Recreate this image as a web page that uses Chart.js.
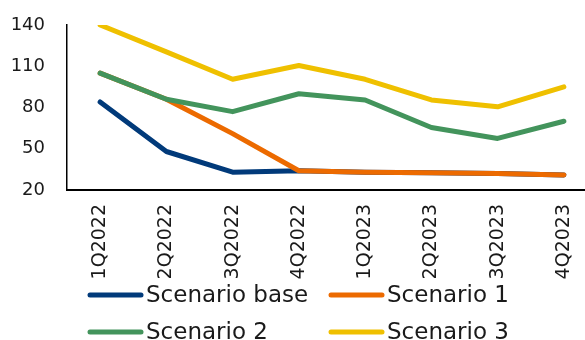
<!DOCTYPE html>
<html>
<head>
<meta charset="utf-8">
<script src="https://cdn.jsdelivr.net/npm/chart.js@4/dist/chart.umd.min.js"></script>
<style>
  html, body { margin: 0; padding: 0; background: #ffffff; overflow: hidden; }
  #wrap { width: 600px; height: 340px; }
</style>
</head>
<body>
<div id="wrap"><canvas id="c" width="600" height="340"></canvas></div>
<script>
// Quarterly scenario paths
const quarters = ['1Q2022', '2Q2022', '3Q2022', '4Q2022', '1Q2023', '2Q2023', '3Q2023', '4Q2023'];
const scenarioBase = [84, 48, 33, 34, 33, 32.5, 32, 31];
const scenario1 = [105, 86, 61, 34, 33, 32.5, 32, 31];
const scenario2 = [105, 86, 77, 90, 85.5, 65.5, 57.5, 70];
const scenario3 = [140, 120.5, 100.5, 110.5, 100.5, 85.5, 80.5, 95];
const yTicks = [20, 50, 80, 110, 140];

const FONT = '"DejaVu Sans", sans-serif';
const TEXT = '#1a1a1a';

function series(label, data, color, order) {
  return {
    label, data, order,
    borderColor: color,
    backgroundColor: color,
    borderWidth: 5,
    borderCapStyle: 'round',
    borderJoinStyle: 'round',
    pointRadius: 0,
    tension: 0,
    fill: false
  };
}

// Two-column legend drawn under the axis labels
const gridLegend = {
  id: 'gridLegend',
  afterDraw(chart) {
    const ctx = chart.ctx;
    const x0 = chart.chartArea.left + 21;
    chart.data.datasets.forEach((ds, i) => {
      const x = x0 + (i % 2) * 241;
      const y = 295 + Math.floor(i / 2) * 37;
      ctx.save();
      ctx.strokeStyle = ds.borderColor;
      ctx.lineWidth = 5;
      ctx.lineCap = 'round';
      ctx.beginPath();
      ctx.moveTo(x + 2, y);
      ctx.lineTo(x + 53, y);
      ctx.stroke();
      ctx.fillStyle = TEXT;
      ctx.font = '23px ' + FONT;
      ctx.textBaseline = 'middle';
      ctx.textAlign = 'left';
      ctx.fillText(ds.label, x + 58, y + 1);
      ctx.restore();
    });
  }
};

new Chart(document.getElementById('c'), {
  type: 'line',
  data: {
    labels: quarters,
    datasets: [
      series('Scenario base', scenarioBase, '#013a7a', 4),
      series('Scenario 1', scenario1, '#ec6a00', 3),
      series('Scenario 2', scenario2, '#43945c', 2),
      series('Scenario 3', scenario3, '#efc000', 1)
    ]
  },
  options: {
    responsive: false,
    animation: false,
    layout: { padding: { left: 0, right: 3, top: 25, bottom: 46.6 } },
    plugins: {
      legend: { display: false },
      tooltip: { enabled: false }
    },
    scales: {
      x: {
        offset: true,
        afterFit(scale) {
          scale.paddingLeft = 0; scale.paddingRight = 0;
          scale.paddingTop = 0; scale.paddingBottom = 0;
        },
        grid: { display: false, drawTicks: false },
        border: { display: true, color: '#000000', width: 2 },
        ticks: {
          color: TEXT,
          font: { family: FONT, size: 19 },
          minRotation: 90,
          maxRotation: 90,
          padding: 14,
          autoSkip: false
        }
      },
      y: {
        min: 20,
        max: 140,
        afterFit(scale) {
          scale.width = 67;
          scale.paddingTop = 0; scale.paddingBottom = 0;
        },
        afterBuildTicks(scale) { scale.ticks = yTicks.map(v => ({ value: v })); },
        grid: { display: false, drawTicks: false },
        border: { display: true, color: '#000000', width: 1.5 },
        ticks: {
          color: TEXT,
          font: { family: FONT, size: 18 },
          padding: 22
        }
      }
    }
  },
  plugins: [gridLegend]
});
</script>
</body>
</html>
